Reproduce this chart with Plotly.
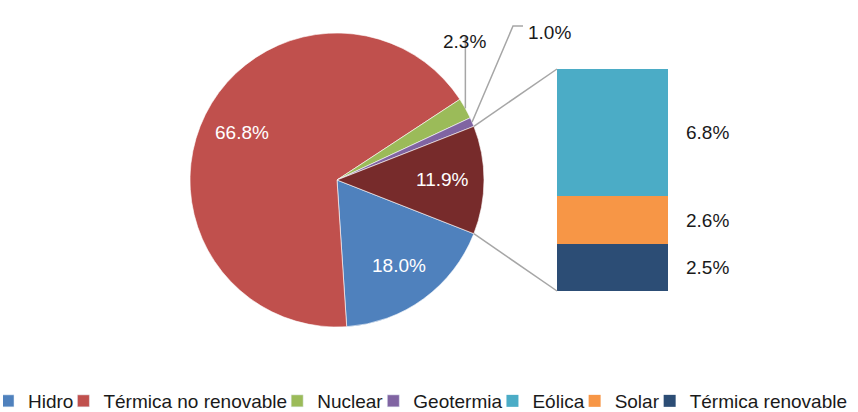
import math
import plotly.graph_objects as go

# ---- data ----
pie_labels = ["Hidro", "Térmica no renovable", "Nuclear", "Geotermia", "Otras renovables"]
pie_values = [18.0, 66.8, 2.3, 1.0, 11.9]
pie_colors = ["#4F81BD", "#C0504D", "#9BBB59", "#8064A2", "#772B2B"]

bar_labels = ["Eólica", "Solar", "Térmica renovable"]
bar_values = [6.8, 2.6, 2.5]
bar_colors = ["#4BACC6", "#F79646", "#2C4D75"]

# ---- layout constants ----
W, H = 858, 412
CX, CY, R = 337, 180, 147          # pie centre / radius in px
BX0, BX1, BY0, BY1 = 557, 668, 69, 291   # bar box in px
FONT = "Liberation Sans, Arial, sans-serif"
LINE = "#A6A6A6"
TXT = "#1A1A1A"


def px(x):
    return x / W


def py(y):
    return 1 - y / H


total = sum(pie_values)
other = pie_values[-1]
rotation = 90 + other / total * 360 / 2

fig = go.Figure()

fig.add_trace(go.Pie(
    labels=pie_labels, values=pie_values, sort=False, direction="clockwise",
    rotation=rotation, marker=dict(colors=pie_colors, line=dict(color="white", width=0.6)),
    textinfo="none", showlegend=False, hoverinfo="label+percent",
    domain=dict(x=[px(CX - R), px(CX + R)], y=[py(CY + R), py(CY - R)]),
))

# legend proxies for pie categories
for i, (lab, col) in enumerate(zip(pie_labels[:-1], pie_colors[:-1])):
    fig.add_trace(go.Bar(x=[None], y=[None], name=lab, marker_color=col,
                         legendrank=i + 1, showlegend=True))

# stacked bar (bottom first)
n = len(bar_labels)
for j in range(n - 1, -1, -1):
    fig.add_trace(go.Bar(x=[0], y=[bar_values[j]], width=[1], name=bar_labels[j],
                         marker=dict(color=bar_colors[j], line=dict(width=0)),
                         legendrank=10 + j, hoverinfo="name+y"))

annotations = []
shapes = []


def angle_point(ang_deg, rr):
    a = math.radians(ang_deg)
    return CX + rr * math.sin(a), CY - rr * math.cos(a)


# slice angles
start = rotation
slices = []
for v in pie_values:
    span = v / total * 360
    slices.append((start, start + span))
    start += span

inside = [0, 1, 4]
for i in inside:
    a0, a1 = slices[i]
    mid = (a0 + a1) / 2.0
    x, y = angle_point(mid, 0.72 * R)
    annotations.append(dict(x=px(x), y=py(y), xref="paper", yref="paper",
                            xanchor="center", yanchor="middle",
                            text=f"{pie_values[i]:.1f}%", showarrow=False,
                            font=dict(color="white", size=19, family=FONT)))

# Nuclear outside label with vertical leader
a0, a1 = slices[2]
ex, ey = angle_point((a0 + a1) / 2, R)
shapes.append(dict(type="line", xref="paper", yref="paper", x0=px(ex), y0=py(ey),
                   x1=px(ex), y1=py(37), line=dict(color=LINE, width=1.5)))
annotations.append(dict(x=px(ex - 1), y=py(28.5), xref="paper", yref="paper",
                        text=f"{pie_values[2]:.1f}%", showarrow=False,
                        font=dict(color=TXT, size=19, family=FONT)))

# Geotermia outside label with bent leader
a0, a1 = slices[3]
ex, ey = angle_point((a0 + a1) / 2, R)
shapes.append(dict(type="path", xref="paper", yref="paper",
                   path=f"M{px(ex)},{py(ey)} L{px(513)},{py(26)} L{px(523)},{py(26)}",
                   line=dict(color=LINE, width=1.5)))
annotations.append(dict(x=px(526), y=py(20), xref="paper", yref="paper", xanchor="left",
                        text=f"{pie_values[3]:.1f}%", showarrow=False,
                        font=dict(color=TXT, size=19, family=FONT)))

# connectors from "other" slice to bar
a0, a1 = slices[4]
tx, ty = angle_point(a0, R)
bx, by = angle_point(a1, R)
shapes.append(dict(type="line", xref="paper", yref="paper", x0=px(tx), y0=py(ty),
                   x1=px(BX0), y1=py(BY0), line=dict(color=LINE, width=1.5)))
shapes.append(dict(type="line", xref="paper", yref="paper", x0=px(bx), y0=py(by),
                   x1=px(BX0), y1=py(BY1), line=dict(color=LINE, width=1.5)))

# bar labels
cum = 0
for j in range(n - 1, -1, -1):
    annotations.append(dict(x=0.5, y=cum + bar_values[j] / 2, xref="x", yref="y",
                            xanchor="left", xshift=16, text=f"{bar_values[j]:.1f}%",
                            showarrow=False, font=dict(color=TXT, size=19, family=FONT)))
    cum += bar_values[j]

fig.update_layout(
    width=W, height=H, margin=dict(l=0, r=0, t=0, b=0, autoexpand=False),
    paper_bgcolor="white", plot_bgcolor="white",
    barmode="stack", bargap=0,
    xaxis=dict(domain=[px(BX0), px(BX1)], range=[-0.5, 0.5], visible=False, fixedrange=True),
    yaxis=dict(domain=[py(BY1), py(BY0)], range=[0, sum(bar_values)], visible=False, fixedrange=True),
    font=dict(family=FONT, size=19, color=TXT),
    legend=dict(orientation="h", x=px(3), xanchor="left", y=py(420), yanchor="bottom",
                traceorder="normal",
                font=dict(size=19, family=FONT, color=TXT),
                itemwidth=30, indentation=-15, tracegroupgap=0, bgcolor="rgba(0,0,0,0)"),
    annotations=annotations, shapes=shapes, showlegend=True,
)

fig.write_html("out.html", config={"displayModeBar": False},
               post_script="document.body.style.margin='0';")
